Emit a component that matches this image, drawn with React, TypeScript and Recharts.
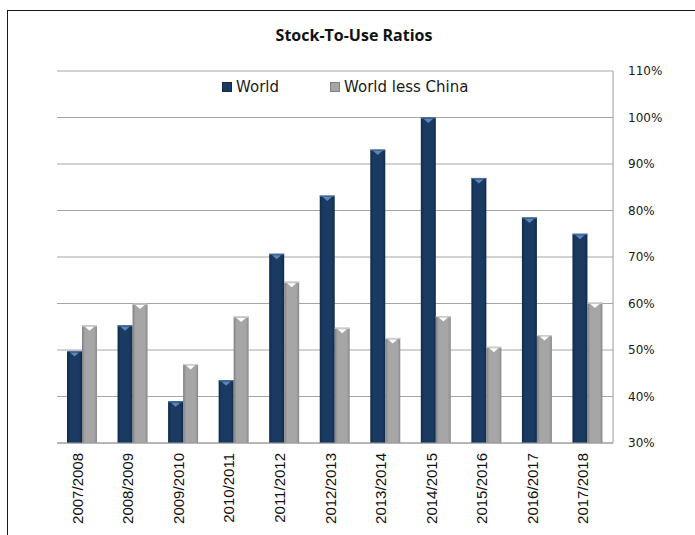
import React from 'react';
import { BarChart, Bar, XAxis, YAxis, CartesianGrid } from 'recharts';

const categories = ['2007/2008', '2008/2009', '2009/2010', '2010/2011', '2011/2012', '2012/2013', '2013/2014', '2014/2015', '2015/2016', '2016/2017', '2017/2018'];
const world = [49.8, 55.3, 39.0, 43.5, 70.7, 83.2, 93.1, 100.0, 87.0, 78.5, 75.0];
const worldLessChina = [55.3, 60.0, 47.0, 57.2, 64.7, 54.8, 52.6, 57.3, 50.7, 53.2, 60.2];
const seriesNames = ['World', 'World less China'];
const yTicks = [30, 40, 50, 60, 70, 80, 90, 100, 110];
const title = 'Stock-To-Use Ratios';

const data = categories.map((c, i) => ({ name: c, world: world[i], less: worldLessChina[i] }));

const NavyBar = (props: any) => {
  const { x, y, width, height } = props;
  if (height <= 0) return null;
  const cx = x + width / 2;
  return (
    <g>
      <rect x={x} y={y} width={width} height={height} fill="url(#gNavy)" />
      <rect x={x} y={y} width={width} height={1.2} fill="#4a6f9e" />
      <polygon points={`${cx - 4.5},${y + 1.5} ${cx + 4.5},${y + 1.5} ${cx},${y + 5.5}`} fill="#5f86bb" />
    </g>
  );
};

const GreyBar = (props: any) => {
  const { x, y, width, height } = props;
  if (height <= 0) return null;
  const cx = x + width / 2;
  return (
    <g>
      <rect x={x} y={y} width={width} height={height} fill="url(#gGrey)" />
      <rect x={x} y={y} width={width} height={1.2} fill="#d0d0d0" />
      <polygon points={`${cx - 4.5},${y + 1.5} ${cx + 4.5},${y + 1.5} ${cx},${y + 5.5}`} fill="#ffffff" />
    </g>
  );
};

const XTick = (props: any) => {
  const { x, y, payload } = props;
  return (
    <g transform={`translate(${x + 0.5},${y + 2}) rotate(-90)`}>
      <text x={0} y={0} textAnchor="end" fontFamily="'Liberation Sans', Arial, sans-serif" fontSize={15} fill="#111">
        {payload.value}
      </text>
    </g>
  );
};

export default function App() {
  return (
    <div style={{ position: 'absolute', left: 0, top: 0, width: 695, height: 535, background: '#fff', overflow: 'hidden' }}>
      <div style={{ position: 'absolute', left: 7, top: 10, width: 700, height: 540, borderTop: '1.5px solid #1a1a1a', borderLeft: '1.5px solid #1a1a1a', boxSizing: 'border-box' }} />
      <div style={{ position: 'absolute', left: 8, width: 692, top: 24, textAlign: 'center', fontFamily: "'Open Sans', sans-serif", fontWeight: 700, fontSize: 16, color: '#111' }}>
        {title}
      </div>
      <div style={{ position: 'absolute', left: 0, top: 0 }}>
        <BarChart width={695} height={535} data={data} margin={{ top: 71, right: 0, bottom: 12, left: 57 }} barGap={0} barSize={15}>
          <defs>
            <linearGradient id="gNavy" x1="0" y1="0" x2="1" y2="0">
              <stop offset="0%" stopColor="#0f2a4a" />
              <stop offset="20%" stopColor="#1a3a62" />
              <stop offset="80%" stopColor="#1a3a62" />
              <stop offset="100%" stopColor="#0f2a4a" />
            </linearGradient>
            <linearGradient id="gGrey" x1="0" y1="0" x2="1" y2="0">
              <stop offset="0%" stopColor="#808080" />
              <stop offset="20%" stopColor="#a6a6a6" />
              <stop offset="80%" stopColor="#a6a6a6" />
              <stop offset="100%" stopColor="#8a8a8a" />
            </linearGradient>
          </defs>
          <CartesianGrid vertical={false} stroke="#a6a6a6" strokeWidth={1} />
          <XAxis dataKey="name" interval={0} tickLine={false} axisLine={{ stroke: '#9a9a9a' }} height={80} tick={<XTick />} />
          <YAxis
            orientation="right"
            domain={[30, 110]}
            ticks={yTicks}
            allowDataOverflow
            width={82}
            tickLine={false}
            tickSize={6}
            tickMargin={9}
            axisLine={{ stroke: '#9a9a9a' }}
            tickFormatter={(v: number) => `${v}%`}
            tick={{ fontFamily: "'DejaVu Sans', sans-serif", fontSize: 12, fill: '#1a1a1a', textAnchor: 'start' }}
          />
          <Bar dataKey="world" name={seriesNames[0]} shape={<NavyBar />} isAnimationActive={false} />
          <Bar dataKey="less" name={seriesNames[1]} shape={<GreyBar />} isAnimationActive={false} />
        </BarChart>
      </div>
      <div style={{ position: 'absolute', top: 78, left: 222, height: 18, display: 'flex', alignItems: 'center', fontFamily: "'DejaVu Sans', sans-serif", fontSize: 15, color: '#1a1a1a' }}>
        <span style={{ display: 'inline-block', width: 10, height: 10, background: '#1a3a62', border: '0.5px solid #0f2a4a', marginRight: 4, boxSizing: 'border-box' }} />
        <span>{seriesNames[0]}</span>
        <span style={{ display: 'inline-block', width: 10, height: 10, background: '#a6a6a6', border: '0.5px solid #808080', marginLeft: 51, marginRight: 4, boxSizing: 'border-box' }} />
        <span>{seriesNames[1]}</span>
      </div>
    </div>
  );
}
